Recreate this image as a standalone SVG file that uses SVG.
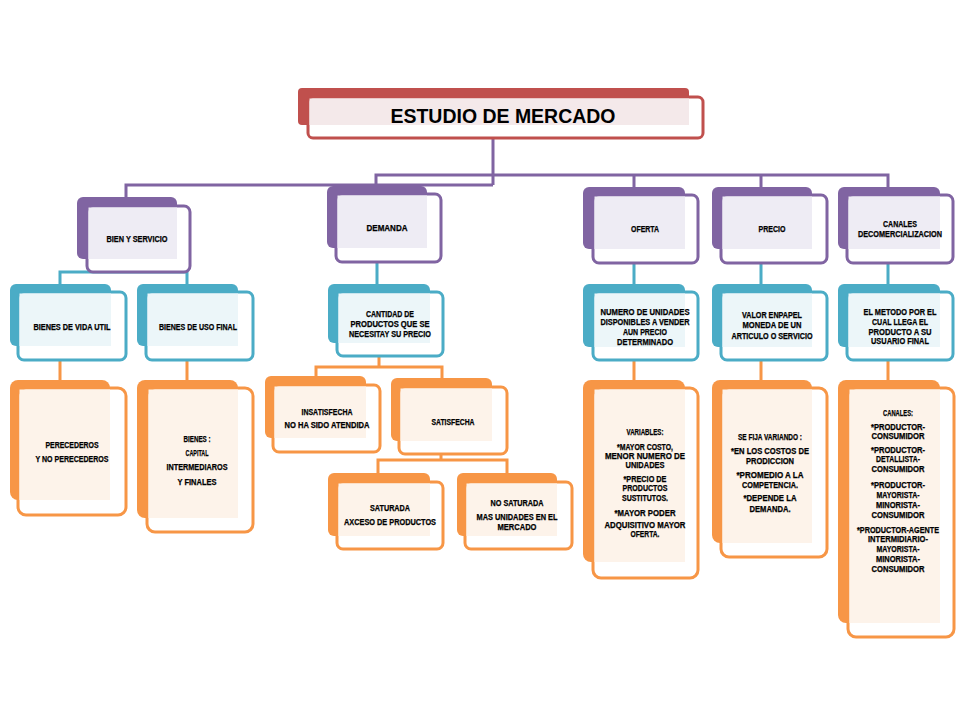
<svg xmlns="http://www.w3.org/2000/svg" width="960" height="720" viewBox="0 0 960 720">
<style>
.t{font-family:"Liberation Sans",Arial,sans-serif;font-weight:bold;font-size:8.5px;text-anchor:middle;fill:#000;stroke:#000;stroke-width:0.25px}
.tt{font-family:"Liberation Sans",Arial,sans-serif;font-weight:bold;font-size:21px;text-anchor:middle;fill:#000}
.fr{fill:#fff;stroke-width:3}
.r .bk{fill:#c0504d}.r .fr{stroke:#c0504d}.r .in{fill:#f4e9ea}
.p .bk{fill:#8064a2}.p .fr{stroke:#8064a2}.p .in{fill:#eeecf4}
.b .bk{fill:#4bacc6}.b .fr{stroke:#4bacc6}.b .in{fill:#ecf6f9}
.o .bk{fill:#f79646}.o .fr{stroke:#f79646}.o .in{fill:#fdf3ea}
.cp{fill:none;stroke:#8064a2;stroke-width:3}
.cb{fill:none;stroke:#4bacc6;stroke-width:3}
.co{fill:none;stroke:#f79646;stroke-width:3}
</style>
<rect width="960" height="720" fill="#fff"/>
<g id="connectors">
<path class="cp" d="M493,138 V185 M126,197 V185 H493 M376,186 V175 H888 V187 M634,175 V187 M761,175 V187"/>
<path class="cb" d="M60,284 V272 H187 V284 M377,262 V284 M634,263 V284 M761,263 V284 M888,263 V284"/>
<path class="co" d="M60,360 V380 M187,360 V380 M379,356 V367 M316,376 V367 H442 V378 M441,454 V460 M378,473 V460 H507 V473 M634,360 V380 M761,360 V380 M888,360 V380"/>
</g>
<g id="n-titulo" class="r">
<rect class="bk" x="298" y="88" width="391" height="37" rx="4"/>
<rect class="fr" x="308" y="97" width="395" height="41" rx="5"/>
<rect class="in" x="309.5" y="98.5" width="379.5" height="26.5"/>
<text class="tt" x="503" y="123" textLength="225" lengthAdjust="spacingAndGlyphs">ESTUDIO DE MERCADO</text>
</g>
<g id="n-bien" class="p">
<rect class="bk" x="77" y="197" width="100" height="62" rx="6"/>
<rect class="fr" x="87" y="206" width="103" height="66" rx="6"/>
<rect class="in" x="88.5" y="207.5" width="88.5" height="51.5"/>
<text class="t" x="137" y="242" textLength="61" lengthAdjust="spacingAndGlyphs">BIEN  Y SERVICIO</text>
</g>
<g id="n-demanda" class="p">
<rect class="bk" x="327" y="186" width="100" height="62" rx="6"/>
<rect class="fr" x="336" y="194" width="105" height="68" rx="6"/>
<rect class="in" x="337.5" y="195.5" width="89.5" height="52.5"/>
<text class="t" x="387" y="231" textLength="41" lengthAdjust="spacingAndGlyphs">DEMANDA</text>
</g>
<g id="n-oferta" class="p">
<rect class="bk" x="583" y="187" width="102" height="62" rx="6"/>
<rect class="fr" x="593" y="195" width="105" height="68" rx="6"/>
<rect class="in" x="594.5" y="196.5" width="90.5" height="52.5"/>
<text class="t" x="645" y="232" textLength="28" lengthAdjust="spacingAndGlyphs">OFERTA</text>
</g>
<g id="n-precio" class="p">
<rect class="bk" x="712" y="187" width="100" height="62" rx="6"/>
<rect class="fr" x="721" y="195" width="106" height="68" rx="6"/>
<rect class="in" x="722.5" y="196.5" width="89.5" height="52.5"/>
<text class="t" x="772" y="232" textLength="27" lengthAdjust="spacingAndGlyphs">PRECIO</text>
</g>
<g id="n-canales" class="p">
<rect class="bk" x="838" y="187" width="102" height="62" rx="6"/>
<rect class="fr" x="847" y="195" width="106" height="68" rx="6"/>
<rect class="in" x="848.5" y="196.5" width="91.5" height="52.5"/>
<text class="t" x="900" y="227" textLength="34" lengthAdjust="spacingAndGlyphs">CANALES</text>
<text class="t" x="900" y="237" textLength="84" lengthAdjust="spacingAndGlyphs">DECOMERCIALIZACION</text>
</g>
<g id="n-vida" class="b">
<rect class="bk" x="10" y="284" width="101" height="62" rx="6"/>
<rect class="fr" x="18" y="292" width="108" height="68" rx="6"/>
<rect class="in" x="19.5" y="293.5" width="91.5" height="52.5"/>
<text class="t" x="72" y="330" textLength="77" lengthAdjust="spacingAndGlyphs">BIENES DE VIDA UTIL</text>
</g>
<g id="n-uso" class="b">
<rect class="bk" x="137" y="284" width="101" height="62" rx="6"/>
<rect class="fr" x="146" y="292" width="107" height="68" rx="6"/>
<rect class="in" x="147.5" y="293.5" width="90.5" height="52.5"/>
<text class="t" x="198" y="330" textLength="78" lengthAdjust="spacingAndGlyphs">BIENES DE USO FINAL</text>
</g>
<g id="n-cantidad" class="b">
<rect class="bk" x="328" y="284" width="102" height="59" rx="6"/>
<rect class="fr" x="337" y="292" width="106" height="64" rx="6"/>
<rect class="in" x="338.5" y="293.5" width="91.5" height="49.5"/>
<text class="t" x="390" y="317" textLength="48" lengthAdjust="spacingAndGlyphs">CANTIDAD DE</text>
<text class="t" x="390" y="327" textLength="79" lengthAdjust="spacingAndGlyphs">PRODUCTOS  QUE SE</text>
<text class="t" x="390" y="337" textLength="82" lengthAdjust="spacingAndGlyphs">NECESITAY  SU PRECIO</text>
</g>
<g id="n-numero" class="b">
<rect class="bk" x="583" y="284" width="102" height="63" rx="6"/>
<rect class="fr" x="593" y="292" width="105" height="68" rx="6"/>
<rect class="in" x="594.5" y="293.5" width="90.5" height="53.5"/>
<text class="t" x="645" y="315" textLength="89" lengthAdjust="spacingAndGlyphs">NUMERO DE UNIDADES</text>
<text class="t" x="645" y="325" textLength="89" lengthAdjust="spacingAndGlyphs">DISPONIBLES  A VENDER</text>
<text class="t" x="645" y="335" textLength="44" lengthAdjust="spacingAndGlyphs">AUN PRECIO</text>
<text class="t" x="645" y="345" textLength="56" lengthAdjust="spacingAndGlyphs">DETERMINADO</text>
</g>
<g id="n-valor" class="b">
<rect class="bk" x="712" y="284" width="100" height="63" rx="6"/>
<rect class="fr" x="721" y="292" width="106" height="68" rx="6"/>
<rect class="in" x="722.5" y="293.5" width="89.5" height="53.5"/>
<text class="t" x="772" y="318" textLength="60" lengthAdjust="spacingAndGlyphs">VALOR ENPAPEL</text>
<text class="t" x="772" y="328" textLength="59" lengthAdjust="spacingAndGlyphs">MONEDA DE UN</text>
<text class="t" x="772" y="339" textLength="81" lengthAdjust="spacingAndGlyphs">ARTICULO O  SERVICIO</text>
</g>
<g id="n-metodo" class="b">
<rect class="bk" x="838" y="284" width="102" height="63" rx="6"/>
<rect class="fr" x="847" y="292" width="106" height="68" rx="6"/>
<rect class="in" x="848.5" y="293.5" width="91.5" height="53.5"/>
<text class="t" x="900" y="315" textLength="73" lengthAdjust="spacingAndGlyphs">EL METODO  POR EL</text>
<text class="t" x="900" y="325" textLength="56" lengthAdjust="spacingAndGlyphs">CUAL LLEGA EL</text>
<text class="t" x="900" y="335" textLength="63" lengthAdjust="spacingAndGlyphs">PRODUCTO A SU</text>
<text class="t" x="900" y="344" textLength="58" lengthAdjust="spacingAndGlyphs">USUARIO FINAL</text>
</g>
<g id="n-perecederos" class="o">
<rect class="bk" x="10" y="380" width="100" height="120" rx="8"/>
<rect class="fr" x="18" y="388" width="108" height="127" rx="8"/>
<rect class="in" x="19.5" y="389.5" width="90.5" height="110.5"/>
<text class="t" x="72" y="448" textLength="53" lengthAdjust="spacingAndGlyphs">PERECEDEROS</text>
<text class="t" x="72" y="462" textLength="73" lengthAdjust="spacingAndGlyphs">Y NO PERECEDEROS</text>
</g>
<g id="n-bienes" class="o">
<rect class="bk" x="137" y="380" width="101" height="138" rx="8"/>
<rect class="fr" x="147" y="388" width="106" height="144" rx="8"/>
<rect class="in" x="148.5" y="389.5" width="89.5" height="128.5"/>
<text class="t" x="197" y="442" textLength="27" lengthAdjust="spacingAndGlyphs">BIENES :</text>
<text class="t" x="197" y="456" textLength="23" lengthAdjust="spacingAndGlyphs">CAPITAL</text>
<text class="t" x="197" y="470" textLength="61" lengthAdjust="spacingAndGlyphs">INTERMEDIAROS</text>
<text class="t" x="197" y="485" textLength="39" lengthAdjust="spacingAndGlyphs">Y FINALES</text>
</g>
<g id="n-insatisfecha" class="o">
<rect class="bk" x="265" y="376" width="101" height="62" rx="6"/>
<rect class="fr" x="273" y="385" width="107" height="67" rx="6"/>
<rect class="in" x="274.5" y="386.5" width="91.5" height="51.5"/>
<text class="t" x="327" y="415" textLength="51" lengthAdjust="spacingAndGlyphs">INSATISFECHA</text>
<text class="t" x="327" y="428" textLength="85" lengthAdjust="spacingAndGlyphs">NO HA SIDO ATENDIDA</text>
</g>
<g id="n-satisfecha" class="o">
<rect class="bk" x="391" y="378" width="101" height="63" rx="6"/>
<rect class="fr" x="399" y="387" width="108" height="67" rx="6"/>
<rect class="in" x="400.5" y="388.5" width="91.5" height="52.5"/>
<text class="t" x="453" y="425" textLength="43" lengthAdjust="spacingAndGlyphs">SATISFECHA</text>
</g>
<g id="n-saturada" class="o">
<rect class="bk" x="328" y="473" width="102" height="63" rx="6"/>
<rect class="fr" x="337" y="482" width="106" height="67" rx="6"/>
<rect class="in" x="338.5" y="483.5" width="91.5" height="52.5"/>
<text class="t" x="390" y="511" textLength="40" lengthAdjust="spacingAndGlyphs">SATURADA</text>
<text class="t" x="390" y="525" textLength="92" lengthAdjust="spacingAndGlyphs">AXCESO DE PRODUCTOS</text>
</g>
<g id="n-nosaturada" class="o">
<rect class="bk" x="457" y="473" width="100" height="63" rx="6"/>
<rect class="fr" x="465" y="482" width="107" height="67" rx="6"/>
<rect class="in" x="466.5" y="483.5" width="90.5" height="52.5"/>
<text class="t" x="517" y="506" textLength="53" lengthAdjust="spacingAndGlyphs">NO SATURADA</text>
<text class="t" x="517" y="520" textLength="81" lengthAdjust="spacingAndGlyphs">MAS UNIDADES EN EL</text>
<text class="t" x="517" y="530" textLength="39" lengthAdjust="spacingAndGlyphs">MERCADO</text>
</g>
<g id="n-variables" class="o">
<rect class="bk" x="583" y="380" width="102" height="182" rx="8"/>
<rect class="fr" x="593" y="388" width="105" height="190" rx="8"/>
<rect class="in" x="594.5" y="389.5" width="90.5" height="172.5"/>
<text class="t" x="645" y="435" textLength="37" lengthAdjust="spacingAndGlyphs">VARIABLES:</text>
<text class="t" x="645" y="450" textLength="56" lengthAdjust="spacingAndGlyphs">*MAYOR COSTO,</text>
<text class="t" x="645" y="459" textLength="80" lengthAdjust="spacingAndGlyphs">MENOR NUMERO DE</text>
<text class="t" x="645" y="468" textLength="39" lengthAdjust="spacingAndGlyphs">UNIDADES</text>
<text class="t" x="645" y="482" textLength="43" lengthAdjust="spacingAndGlyphs">*PRECIO DE</text>
<text class="t" x="645" y="491" textLength="45" lengthAdjust="spacingAndGlyphs">PRODUCTOS</text>
<text class="t" x="645" y="501" textLength="46" lengthAdjust="spacingAndGlyphs">SUSTITUTOS.</text>
<text class="t" x="645" y="516" textLength="61" lengthAdjust="spacingAndGlyphs">*MAYOR PODER</text>
<text class="t" x="645" y="528" textLength="81" lengthAdjust="spacingAndGlyphs">ADQUISITIVO  MAYOR</text>
<text class="t" x="645" y="537" textLength="29" lengthAdjust="spacingAndGlyphs">OFERTA.</text>
</g>
<g id="n-sefija" class="o">
<rect class="bk" x="712" y="380" width="100" height="163" rx="8"/>
<rect class="fr" x="721" y="388" width="106" height="169" rx="8"/>
<rect class="in" x="722.5" y="389.5" width="89.5" height="153.5"/>
<text class="t" x="770" y="440" textLength="64" lengthAdjust="spacingAndGlyphs">SE FIJA VARIANDO :</text>
<text class="t" x="770" y="454" textLength="78" lengthAdjust="spacingAndGlyphs">*EN LOS COSTOS  DE</text>
<text class="t" x="770" y="464" textLength="48" lengthAdjust="spacingAndGlyphs">PRODICCION</text>
<text class="t" x="770" y="478" textLength="67" lengthAdjust="spacingAndGlyphs">*PROMEDIO A LA</text>
<text class="t" x="770" y="488" textLength="56" lengthAdjust="spacingAndGlyphs">COMPETENCIA.</text>
<text class="t" x="770" y="501" textLength="53" lengthAdjust="spacingAndGlyphs">*DEPENDE LA</text>
<text class="t" x="770" y="512" textLength="41" lengthAdjust="spacingAndGlyphs">DEMANDA.</text>
</g>
<g id="n-canaleslist" class="o">
<rect class="bk" x="838" y="380" width="102" height="243" rx="8"/>
<rect class="fr" x="848" y="388" width="106" height="249" rx="8"/>
<rect class="in" x="849.5" y="389.5" width="90.5" height="233.5"/>
<text class="t" x="898" y="416" textLength="30" lengthAdjust="spacingAndGlyphs">CANALES:</text>
<text class="t" x="898" y="430" textLength="54" lengthAdjust="spacingAndGlyphs">*PRODUCTOR-</text>
<text class="t" x="898" y="439" textLength="53" lengthAdjust="spacingAndGlyphs">CONSUMIDOR</text>
<text class="t" x="898" y="453" textLength="54" lengthAdjust="spacingAndGlyphs">*PRODUCTOR-</text>
<text class="t" x="898" y="462" textLength="44" lengthAdjust="spacingAndGlyphs">DETALLISTA-</text>
<text class="t" x="898" y="472" textLength="53" lengthAdjust="spacingAndGlyphs">CONSUMIDOR</text>
<text class="t" x="898" y="488" textLength="54" lengthAdjust="spacingAndGlyphs">*PRODUCTOR-</text>
<text class="t" x="898" y="498" textLength="43" lengthAdjust="spacingAndGlyphs">MAYORISTA-</text>
<text class="t" x="898" y="508" textLength="44" lengthAdjust="spacingAndGlyphs">MINORISTA-</text>
<text class="t" x="898" y="518" textLength="53" lengthAdjust="spacingAndGlyphs">CONSUMIDOR</text>
<text class="t" x="898" y="533" textLength="82" lengthAdjust="spacingAndGlyphs">*PRODUCTOR-AGENTE</text>
<text class="t" x="898" y="542" textLength="60" lengthAdjust="spacingAndGlyphs">INTERMIDIARIO-</text>
<text class="t" x="898" y="552" textLength="43" lengthAdjust="spacingAndGlyphs">MAYORISTA-</text>
<text class="t" x="898" y="562" textLength="44" lengthAdjust="spacingAndGlyphs">MINORISTA-</text>
<text class="t" x="898" y="572" textLength="53" lengthAdjust="spacingAndGlyphs">CONSUMIDOR</text>
</g>
</svg>
